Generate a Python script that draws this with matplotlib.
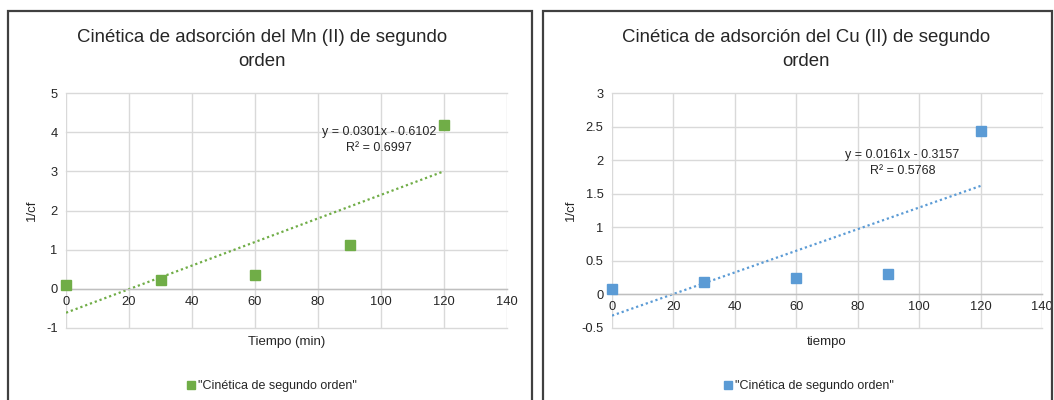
import matplotlib
matplotlib.use("Agg")
import matplotlib.pyplot as plt
from matplotlib.patches import Rectangle
from matplotlib.lines import Line2D

# ---- data ----
tiempo = [0, 30, 60, 90, 120]
mn_values = [0.10, 0.22, 0.36, 1.13, 4.18]
cu_values = [0.08, 0.19, 0.24, 0.31, 2.44]
mn_fit = (0.0301, -0.6102)
cu_fit = (0.0161, -0.3157)
mn_r2 = 0.6997
cu_r2 = 0.5768
x_ticks = [0, 20, 40, 60, 80, 100, 120, 140]
mn_yticks = [-1, 0, 1, 2, 3, 4, 5]
cu_yticks = [-0.5, 0, 0.5, 1, 1.5, 2, 2.5, 3]
series_label = '"Cinética de segundo orden"'

W, H = 1054, 400
plt.rcParams['font.family'] = ['Liberation Sans', 'DejaVu Sans']
TITLE_SIZE = 13.4

fig = plt.figure(figsize=(W / 100, H / 100), dpi=100)
fig.patch.set_facecolor('white')

TXT = '#262626'
GRID = '#d9d9d9'
SMALL = 9.0


def fx(px):
    return px / W


def fy(py):
    return 1 - py / H


def panel(box, ax_px, data, fit, r2, yticks, ylim, color, title_lines, xlabel,
          title_x, eq_xy, r2_xy, ylabel_x, legend_xy):
    bx0, by0, bx1, by1 = box
    fig.add_artist(Rectangle((fx(bx0), fy(by1)), fx(bx1 - bx0), (by1 - by0) / H,
                             transform=fig.transFigure, fill=False,
                             edgecolor='#404040', linewidth=1.6))
    x0, y0, x1, y1 = ax_px
    ax = fig.add_axes([fx(x0), fy(y1), fx(x1 - x0), (y1 - y0) / H])
    ax.set_xlim(0, 140)
    ax.set_ylim(*ylim)
    ax.set_xticks(x_ticks)
    ax.set_yticks(yticks)
    ax.set_yticklabels([('%g' % v) for v in yticks])
    ax.grid(True, color=GRID, linewidth=1.0)
    for gl in ax.get_xgridlines() + ax.get_ygridlines():
        gl.set_clip_on(False)
    ax.set_axisbelow(True)
    for s in ['top', 'left', 'right']:
        ax.spines[s].set_visible(False)
    ax.spines['bottom'].set_position(('data', 0))
    ax.spines['bottom'].set_color('#bfbfbf')
    ax.spines['bottom'].set_linewidth(1.0)
    ax.tick_params(length=0, labelsize=SMALL + 0.3, labelcolor=TXT, pad=6)
    ax.tick_params(axis='x', pad=5)

    ax.plot(data[0], data[1], linestyle='none', marker='s', markersize=7,
            color=color, zorder=3, label=series_label, clip_on=False)
    xs = [data[0][0], data[0][-1]]
    ys = [fit[0] * v + fit[1] for v in xs]
    ax.plot(xs, ys, linestyle=(0, (1, 1.3)), linewidth=1.6, color=color, zorder=2)

    sign = '-' if fit[1] < 0 else '+'
    fig.text(fx(eq_xy[0]), fy(eq_xy[1]), 'y = %.4fx %s %.4f' % (fit[0], sign, abs(fit[1])),
             ha='center', va='center', fontsize=SMALL, color=TXT)
    fig.text(fx(r2_xy[0]), fy(r2_xy[1]), 'R² = %.4f' % r2,
             ha='center', va='center', fontsize=SMALL, color=TXT)

    for line, ty in zip(title_lines, (37, 62)):
        fig.text(fx(title_x), fy(ty), line, ha='center', va='center',
                 fontsize=TITLE_SIZE, color=TXT)
    fig.text(fx((x0 + x1) / 2), fy(342), xlabel, ha='center', va='center',
             fontsize=SMALL + 0.5, color=TXT)
    fig.text(fx(ylabel_x), fy((y0 + y1) / 2), '1/cf', ha='center', va='center',
             fontsize=SMALL + 0.5, color=TXT, rotation=90)

    handle = Line2D([], [], linestyle='none', marker='s', markersize=6, color=color)
    fig.legend([handle], [series_label], loc='center',
               bbox_to_anchor=(fx(legend_xy[0]), fy(legend_xy[1])),
               frameon=False, fontsize=SMALL, handlelength=0.6, handletextpad=0.3,
               borderpad=0, labelcolor=TXT)
    return ax


panel((8, 11, 532, 410), (66, 93, 507, 328), (tiempo, mn_values), mn_fit, mn_r2,
      mn_yticks, (-1, 5), '#70AD47',
      ['Cinética de adsorción del Mn (II) de segundo', 'orden'], 'Tiempo (min)',
      262, (379, 132), (379, 148), 32, (272, 386))

panel((543, 11, 1052, 410), (612, 93, 1042, 328), (tiempo, cu_values), cu_fit, cu_r2,
      cu_yticks, (-0.5, 3), '#5B9BD5',
      ['Cinética de adsorción del Cu (II) de segundo', 'orden'], 'tiempo',
      806, (902, 155), (903, 171), 571, (809, 386))

fig.savefig('out.png', dpi=100, facecolor='white')
